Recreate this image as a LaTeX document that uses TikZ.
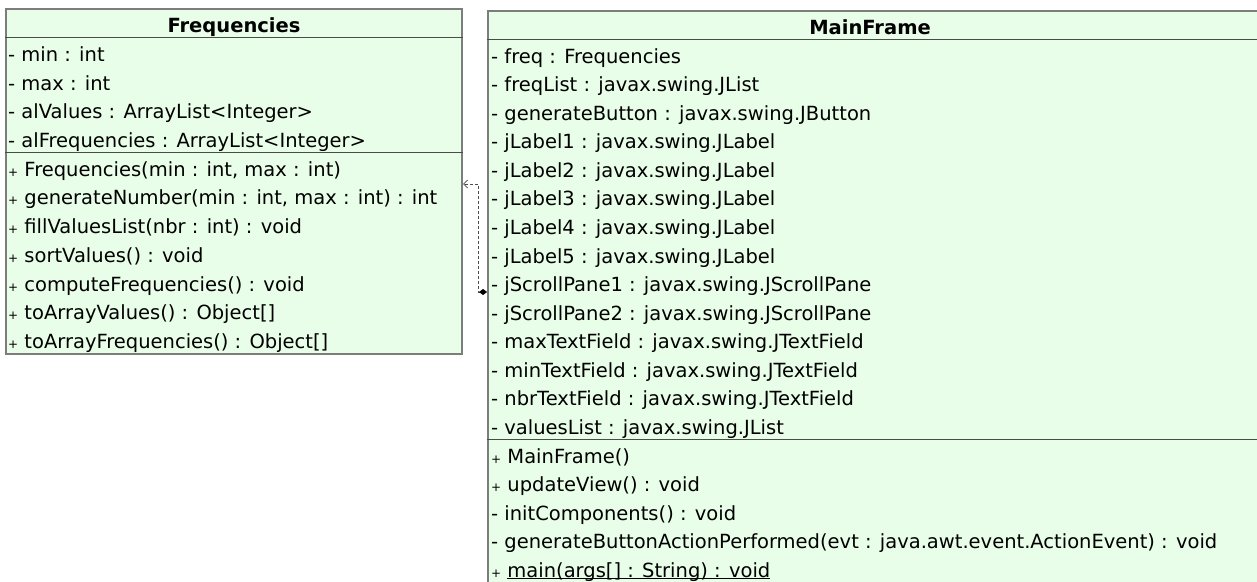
\documentclass[tikz,border=0pt]{standalone}
\usepackage{fontspec}
\setmainfont{DejaVu Sans}
\usepackage{tikz}
\usetikzlibrary{arrows.meta}
\definecolor{classfill}{RGB}{233,254,233}
\definecolor{classline}{RGB}{125,125,125}
\tikzset{
	classbox/.style={rectangle, draw=classline, line width=2pt, fill=classfill, inner sep=0pt, anchor=north west},
	member/.style={anchor=base west, inner sep=0pt, font=\fontsize{19.5}{23}\selectfont},
	classtitle/.style={anchor=base, inner sep=0pt, font=\fontsize{19.5}{23}\selectfont\bfseries},
	sepline/.style={draw=classline!60!black, line width=1pt},
	compo/.style={draw=black!70, line width=0.8pt, dash pattern=on 3pt off 2pt,
		{Diamond[black,length=8pt,width=6pt,sep=0pt]}-{Straight Barb[length=4pt,width=8pt]}}
}
\newcommand{\pub}{{\fontsize{12}{12}\selectfont+}}
\newcommand{\stat}[1]{\setbox0\hbox{#1}\rlap{\rule[-1.6pt]{\wd0}{0.9pt}}\box0}
\begin{document}
\begin{tikzpicture}[x=1pt,y=-1pt]
	\useasboundingbox (0,0) rectangle (1257,581);
	\clip (0,0) rectangle (1257,581);

	\node[classbox, minimum width=456pt, minimum height=345pt] (freq) at (5,8) {};
	\draw[sepline] ([yshift=-29pt]freq.north west) -- ([yshift=-29pt]freq.north east);
	\draw[sepline] ([yshift=-144pt]freq.north west) -- ([yshift=-144pt]freq.north east);
	\node[classtitle] (freqtitle) at ([yshift=-24.5pt]freq.north) {Frequencies};
	\foreach \txt [count=\i] in {{- min : int},{- max : int},{- alValues : ArrayList<Integer>},{- alFrequencies : ArrayList<Integer>}}{
		\node[member] (fattr\i) at (8,32.5+28.75*\i) {\txt};
	}
	\foreach \txt [count=\i] in {{\pub\ Frequencies(min : int, max : int)},{\pub\ generateNumber(min : int, max : int) : int},{\pub\ fillValuesList(nbr : int) : void},{\pub\ sortValues() : void},{\pub\ computeFrequencies() : void},{\pub\ toArrayValues() : Object[]},{\pub\ toArrayFrequencies() : Object[]}}{
		\node[member] (fmeth\i) at (8,147.5+28.7*\i) {\txt};
	}

	\node[classbox, minimum width=775pt, minimum height=576pt] (mf) at (487,10) {};
	\draw[sepline] ([yshift=-29pt]mf.north west) -- ([yshift=-29pt]mf.north east);
	\draw[sepline] ([yshift=-429pt]mf.north west) -- ([yshift=-429pt]mf.north east);
	\node[classtitle] (mftitle) at (870,34.5) {MainFrame};
	\foreach \txt [count=\i] in {{- freq : Frequencies},{- freqList : javax.swing.JList},{- generateButton : javax.swing.JButton},{- jLabel1 : javax.swing.JLabel},{- jLabel2 : javax.swing.JLabel},{- jLabel3 : javax.swing.JLabel},{- jLabel4 : javax.swing.JLabel},{- jLabel5 : javax.swing.JLabel},{- jScrollPane1 : javax.swing.JScrollPane},{- jScrollPane2 : javax.swing.JScrollPane},{- maxTextField : javax.swing.JTextField},{- minTextField : javax.swing.JTextField},{- nbrTextField : javax.swing.JTextField},{- valuesList : javax.swing.JList}}{
		\node[member] (mattr\i) at (491,34.5+28.57*\i) {\txt};
	}
	\foreach \txt [count=\i] in {{\pub\ MainFrame()},{\pub\ updateView() : void},{- initComponents() : void},{- generateButtonActionPerformed(evt : java.awt.event.ActionEvent) : void},{\pub\ \stat{main(args[] : String) : void}}}{
		\node[member] (mmeth\i) at (491,434.5+28.57*\i) {\txt};
	}

	\draw[compo] (mf.west |- 0,292) -- ++(-9,0) |- (freq.east |- 0,184);
\end{tikzpicture}
\end{document}
